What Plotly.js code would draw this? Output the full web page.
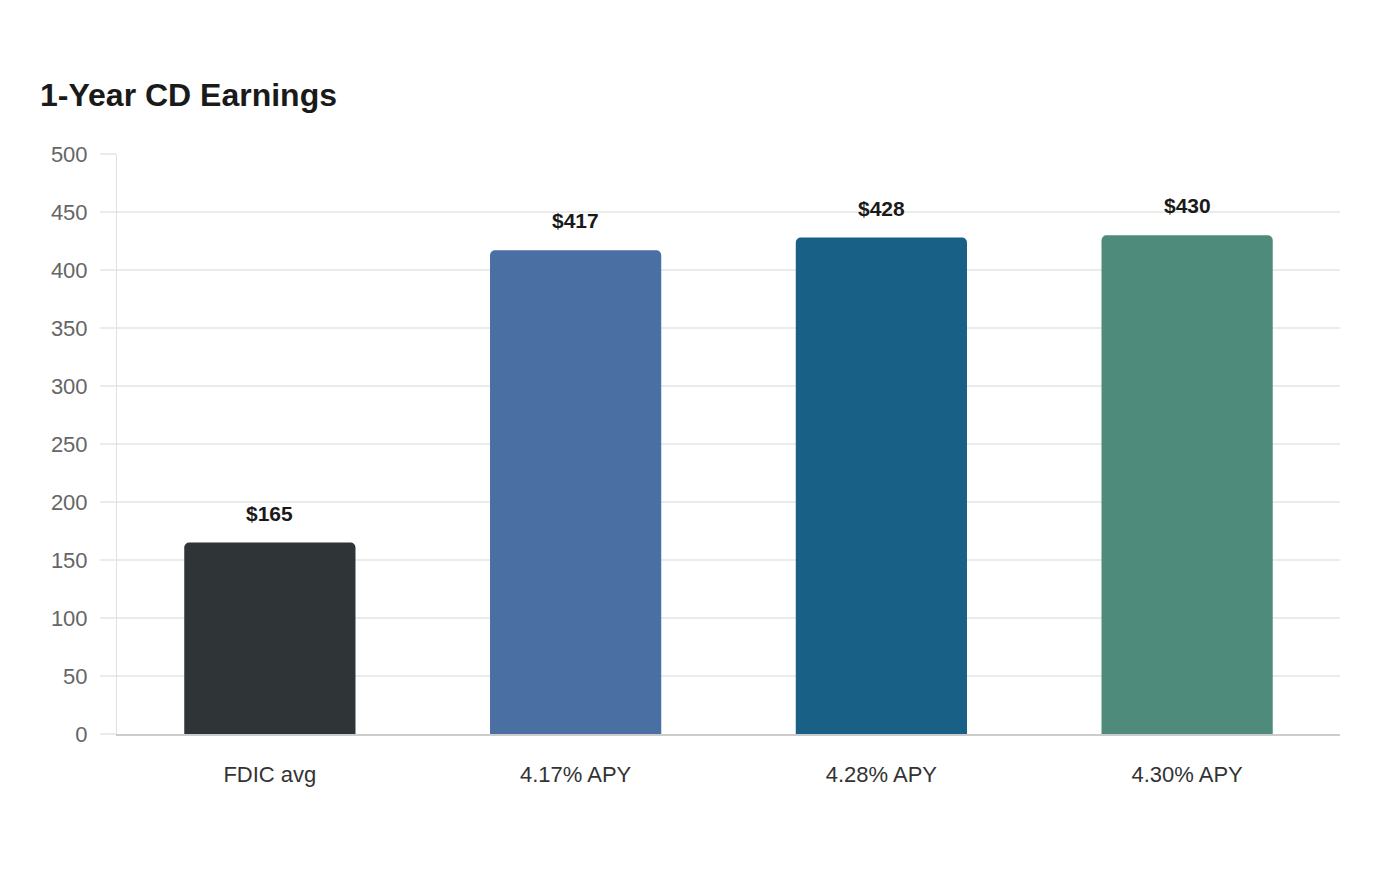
<!DOCTYPE html>
<html>
<head>
<meta charset="utf-8">
<script src="https://cdn.plot.ly/plotly-3.0.1.min.js"></script>
<style>
  html, body { margin: 0; padding: 0; background: #ffffff; }
  #chart { width: 1400px; height: 880px; }
</style>
</head>
<body>
<div id="chart"></div>
<script>
// One-year earnings on a CD by rate
const categories = ["FDIC avg", "4.17% APY", "4.28% APY", "4.30% APY"];
const earnings = [165, 417, 428, 430];
const barColors = ["#2f3436", "#4a6fa3", "#186085", "#4e8b7a"];
const yTicks = [0, 50, 100, 150, 200, 250, 300, 350, 400, 450, 500];

const trace = {
  type: "bar",
  x: categories,
  y: earnings,
  marker: { color: barColors, line: { width: 0 }, cornerradius: 5 },
  hoverinfo: "skip"
};

const labels = categories.map((c, i) => ({
  x: c,
  y: earnings[i],
  xref: "x",
  yref: "y",
  text: "<b>$" + earnings[i] + "</b>",
  showarrow: false,
  yanchor: "bottom",
  yshift: 16,
  font: { family: "Liberation Sans, Arial, sans-serif", size: 21, color: "#1a1a1a" }
}));

const layout = {
  width: 1400,
  height: 880,
  paper_bgcolor: "#ffffff",
  plot_bgcolor: "#ffffff",
  margin: { l: 117, r: 60, t: 154, b: 146 },
  bargap: 0.44,
  showlegend: false,
  font: { family: "Liberation Sans, Arial, sans-serif" },
  title: {
    text: "<b>1-Year CD Earnings</b>",
    x: 40 / 1400,
    xanchor: "left",
    xref: "container",
    y: 1 - 95 / 880,
    yref: "container",
    yanchor: "middle",
    font: { family: "Liberation Sans, Arial, sans-serif", size: 32, color: "#1a1a1a" }
  },
  xaxis: {
    type: "category",
    tickfont: { size: 22, color: "#333333" },
    showgrid: false,
    showline: true,
    linecolor: "#cccccc",
    linewidth: 2,
    ticks: "",
    ticklabelstandoff: 20,
    fixedrange: true
  },
  yaxis: {
    range: [0, 500],
    tickvals: yTicks,
    ticktext: yTicks.map(String),
    tickfont: { size: 22, color: "#666666" },
    showgrid: true,
    gridcolor: "#ebebeb",
    gridwidth: 1.5,
    zeroline: false,
    showline: true,
    linecolor: "#e0e0e0",
    linewidth: 1,
    ticks: "outside",
    ticklen: 16,
    tickcolor: "#ebebeb",
    tickwidth: 1.5,
    ticklabelstandoff: 8,
    fixedrange: true
  },
  annotations: labels
};

Plotly.newPlot("chart", [trace], layout, { displayModeBar: false, staticPlot: true });
</script>
</body>
</html>
